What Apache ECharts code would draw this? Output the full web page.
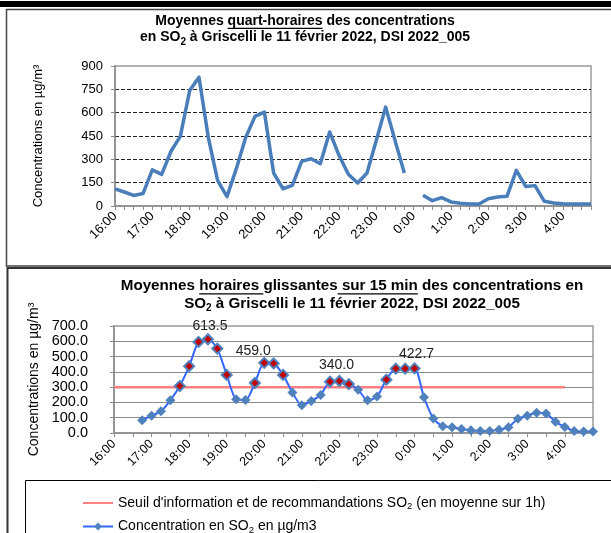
<!DOCTYPE html>
<html><head><meta charset="utf-8">
<script src="https://cdn.jsdelivr.net/npm/echarts@6/dist/echarts.min.js"></script>
<style>html,body{margin:0;padding:0;background:#fff}#c{width:611px;height:533px}</style>
</head><body><div id="c"></div>
<script>
// ---------------- DATA ----------------
const categories = ["16:00","16:15","16:30","16:45","17:00","17:15","17:30","17:45",
  "18:00","18:15","18:30","18:45","19:00","19:15","19:30","19:45",
  "20:00","20:15","20:30","20:45","21:00","21:15","21:30","21:45",
  "22:00","22:15","22:30","22:45","23:00","23:15","23:30","23:45",
  "0:00","0:15","0:30","0:45","1:00","1:15","1:30","1:45",
  "2:00","2:15","2:30","2:45","3:00","3:15","3:30","3:45",
  "4:00","4:15","4:30","4:45"];
// quarter-hour means (top chart)
const quarterValues = [110,90,68,80,232,203,352,448,
  742,828,440,163,60,240,440,576,
  604,212,111,133,287,304,272,476,
  326,204,148,212,422,636,422,212,
  null,69,34,54,26,17,13,13,
  47,58,62,229,126,131,30,19,
  15,13,13,13];
// sliding hourly means (bottom chart)
const hourlyValues = [null,null,null,84,113,143,214,307,
  437,596,613.5,552,380,221,216,327,
  459.0,455,380,265,181,210,249,336,
  340.0,320,283,214,238,349,421,421,
  422.7,234,95,44,38,26,18,13,
  13,22,38,93,113,132,128,73,
  40,13,9,9];
// information threshold (µg/m³)
const thresholdValues = [300,300,300,300,300,300,300,300,
  300,300,300,300,300,300,300,300,
  300,300,300,300,300,300,300,300,
  300,300,300,300,300,300,300,300,
  300,300,300,300,300,300,300,300,
  300,300,300,300,300,300,300,300,
  300,null,null,null];
const thresholdLevel = 300;
const peakLabelIndex = [10,16,24,32];
const seriesNames = ["Seuil d'information et de recommandations SO2 (en moyenne sur 1h)",
                     "Concentration en SO2 en µg/m3"];

// ---------------- STYLE / LAYOUT ----------------
const FF = "'Liberation Sans', Arial, Helvetica, sans-serif";
const mctx = document.createElement('canvas').getContext('2d');
function tw(t, size, bold){ mctx.font = (bold?'bold ':'') + size + 'px ' + FF; return mctx.measureText(t).width; }
function titleLine(segs, cx, cy, size, out){
  const sub = Math.round(size*0.68);
  const ws = segs.map(s => tw(s.t, s.sub?sub:size, true));
  let x = cx - ws.reduce((a,b)=>a+b,0)/2;
  segs.forEach((s,i)=>{
    out.push({type:'text', silent:true, x:x, y: cy + (s.sub ? size*0.32 : 0),
      style:{text:s.t, fontSize:s.sub?sub:size, fontWeight:'bold', fontFamily:FF, fill:'#000',
             align:'left', verticalAlign:'middle'}});
    if (s.u) out.push({type:'line', silent:true,
      shape:{x1:x, y1:cy+size*0.52, x2:x+ws[i], y2:cy+size*0.52},
      style:{stroke:'#000', lineWidth:1.2}});
    x += ws[i];
  });
}
const graphics = [
  {type:'rect', silent:true, shape:{x:0,y:1,width:611,height:6}, style:{fill:'#000'}},
  {type:'rect', silent:true, shape:{x:6.5,y:9.5,width:700,height:256.5}, style:{fill:'none', stroke:'#444', lineWidth:1.5}},
  {type:'rect', silent:true, shape:{x:7.5,y:268,width:700,height:300}, style:{fill:'none', stroke:'#333', lineWidth:2}},
  {type:'rect', silent:true, shape:{x:25.5,y:480.5,width:700,height:100}, style:{fill:'none', stroke:'#000', lineWidth:1}}
];
titleLine([{t:'Moyennes '},{t:'quart-horaires',u:1},{t:' des concentrations'}], 305, 21, 14, graphics);
titleLine([{t:'en SO'},{t:'2',sub:1},{t:' à Griscelli le 11 février 2022, DSI 2022_005'}], 305, 37.5, 14, graphics);
titleLine([{t:'Moyennes '},{t:'horaires ',u:1},{t:'glissantes'},{t:' sur 15 min',u:1},{t:' des concentrations en'}], 352, 286, 15.2, graphics);
titleLine([{t:'SO'},{t:'2',sub:1},{t:' à Griscelli le 11 février 2022, DSI 2022_005'}], 352, 303.5, 15.2, graphics);

const labelOffsets = {10:[2,2], 16:[-11,3], 24:[-3,-1], 32:[2,1]};
const concData = hourlyValues.map((v,i)=>{
  if (v == null) return null;
  const item = {value: v};
  if (v >= thresholdLevel) item.itemStyle = {color:'#c00000', borderColor:'#4f81bd', borderWidth:2};
  if (peakLabelIndex.indexOf(i) >= 0) item.label = {show:true, position:'top', distance:2,
      offset: labelOffsets[i], formatter: p => p.value.toFixed(1),
      fontSize:14, fontFamily:FF, color:'#222'};
  return item;
});

const legendFmt = n => '{a|' + n.replace('SO2', 'SO}{s|2}{a|') + '}';

const option = {
  backgroundColor:'#fff',
  animation:false,
  graphic: graphics,
  grid: [
    {left:115, top:66, right:20, bottom:327, show:true, borderColor:'#9a9a9a', borderWidth:1.5, backgroundColor:'transparent'},
    {left:114, top:326, right:18, bottom:100, show:true, borderColor:'#9a9a9a', borderWidth:1.5, backgroundColor:'transparent'}
  ],
  xAxis: [
    {type:'category', gridIndex:0, data:categories, boundaryGap:false,
     axisLine:{lineStyle:{color:'#8c8c8c', width:1.5}},
     axisTick:{show:true, interval:0, length:4, lineStyle:{color:'#8c8c8c'}},
     axisLabel:{interval:3, rotate:45, margin:8, fontSize:13, fontFamily:FF, color:'#000'},
     splitLine:{show:false}},
    {type:'category', gridIndex:1, data:categories, boundaryGap:false,
     axisLine:{lineStyle:{color:'#8c8c8c', width:1.5}},
     axisTick:{show:true, interval:1, length:4, lineStyle:{color:'#8c8c8c'}},
     axisLabel:{interval:3, rotate:45, margin:9, fontSize:12.5, fontFamily:FF, color:'#000'},
     splitLine:{show:false}}
  ],
  yAxis: [
    {type:'value', gridIndex:0, min:0, max:900, interval:150,
     name:'Concentrations en µg/m³', nameLocation:'middle', nameGap:70,
     nameTextStyle:{fontSize:13, fontFamily:FF, color:'#000'},
     axisLine:{show:true, lineStyle:{color:'#8c8c8c', width:1.5}},
     axisTick:{show:true, length:4, lineStyle:{color:'#8c8c8c'}},
     axisLabel:{margin:12, fontSize:13, fontFamily:FF, color:'#000'},
     splitLine:{show:true, showMinLine:false, showMaxLine:false, lineStyle:{color:'#222', width:1, type:[4,2]}}},
    {type:'value', gridIndex:1, min:0, max:700, interval:100,
     name:'Concentrations en µg/m³', nameLocation:'middle', nameGap:70,
     nameTextStyle:{fontSize:14, fontFamily:FF, color:'#000'},
     axisLine:{show:true, lineStyle:{color:'#8c8c8c', width:1.5}},
     axisTick:{show:true, length:4, lineStyle:{color:'#8c8c8c'}},
     axisLabel:{margin:26, fontSize:14.5, fontFamily:FF, color:'#000', formatter: v => v.toFixed(1)},
     splitLine:{show:true, showMinLine:false, showMaxLine:false, lineStyle:{color:'#8a8a8a', width:1.2}}}
  ],
  legend: {
    data:[{name:seriesNames[0], itemStyle:{color:'rgba(0,0,0,0)', borderColor:'rgba(0,0,0,0)', borderWidth:0}},
          {name:seriesNames[1]}],
    orient:'vertical', left:82, top:496, height:40, itemWidth:30, itemHeight:10, itemGap:8,
    padding:0,
    formatter: legendFmt,
    textStyle:{fontSize:14, fontFamily:FF, color:'#000',
      rich:{a:{fontSize:14, fontFamily:FF, color:'#000'}, s:{fontSize:9.5, fontFamily:FF, color:'#000', verticalAlign:'bottom', padding:[7,0,0,0]}}}
  },
  series: [
    {type:'line', name:'quart-horaires', xAxisIndex:0, yAxisIndex:0, data:quarterValues,
     showSymbol:false, symbol:'none', connectNulls:false,
     lineStyle:{color:'#4a7ebb', width:3.5, join:'round'}, itemStyle:{color:'#4a7ebb'}, z:3},
    {type:'line', name:seriesNames[0], xAxisIndex:1, yAxisIndex:1, data:thresholdValues,
     symbol:'none', lineStyle:{color:'#ff8080', width:2.5}, itemStyle:{color:'#ff8080'}, z:2},
    {type:'line', name:seriesNames[1], xAxisIndex:1, yAxisIndex:1, data:concData,
     symbol:'diamond', symbolSize:10, showAllSymbol:true, smooth:0.25, connectNulls:false,
     lineStyle:{color:'#3366ff', width:2}, itemStyle:{color:'#4f81bd'}, z:4}
  ]
};
const chart = echarts.init(document.getElementById('c'));
chart.setOption(option);
</script></body></html>
